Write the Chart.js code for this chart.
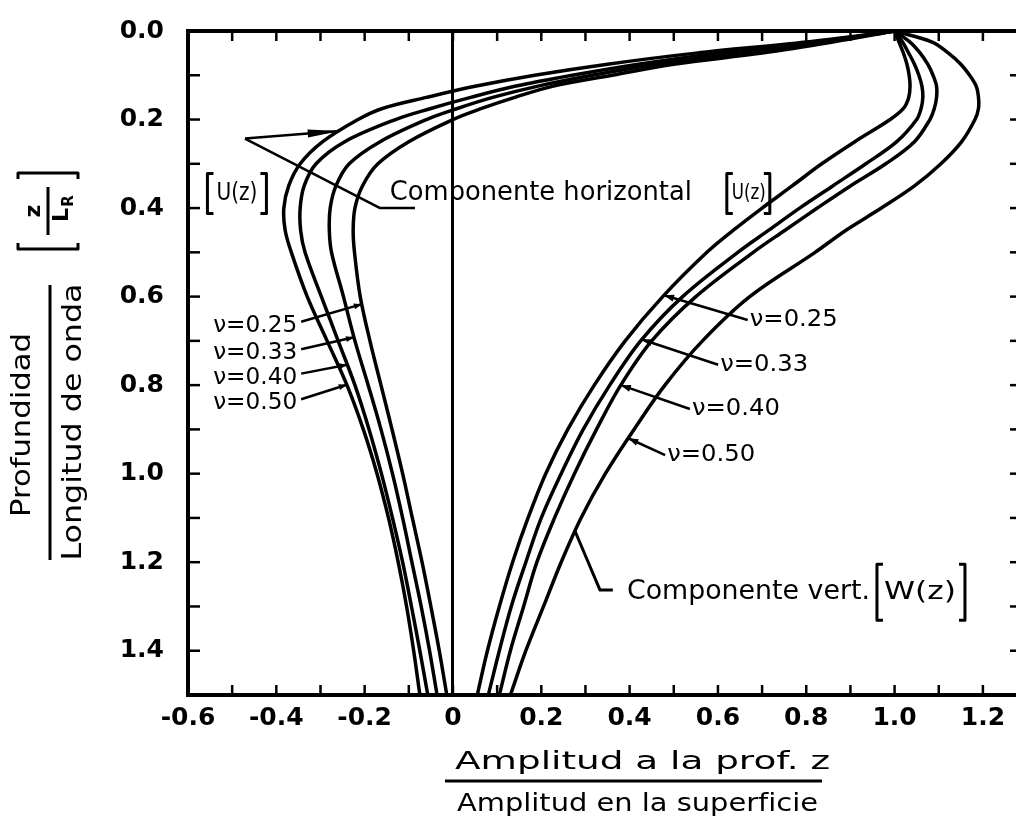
<!DOCTYPE html>
<html lang="es">
<head>
<meta charset="utf-8">
<title>Amplitud vs profundidad</title>
<script src="https://cdn.jsdelivr.net/npm/chart.js@4.4.1/dist/chart.umd.min.js"></script>
<style>
  html, body { margin: 0; padding: 0; background: #fff; overflow: hidden; }
  #wrap { position: relative; width: 1040px; height: 826px; }
</style>
</head>
<body>
<div id="wrap"><canvas id="chart"></canvas></div>
<script>
/* ── Data ─────────────────────────────────────────────────── */
const depth = [0, 0.025, 0.05, 0.075, 0.1, 0.125, 0.15, 0.175, 0.2, 0.25, 0.3, 0.35, 0.4,
               0.45, 0.5, 0.6, 0.7, 0.8, 0.9, 1.0, 1.1, 1.2, 1.3, 1.4, 1.5];

// horizontal component U(z), one array per Poisson ratio
const u25 = [1.0, 0.86, 0.70, 0.50, 0.36, 0.225, 0.14, 0.065, 0.0, -0.10, -0.17, -0.205, -0.222,
             -0.226, -0.223, -0.21, -0.188, -0.163, -0.138, -0.114, -0.092, -0.07, -0.05, -0.031, -0.014];
const u33 = [1.0, 0.84, 0.65, 0.46, 0.315, 0.19, 0.09, 0.01, -0.06, -0.165, -0.235, -0.265, -0.278,
             -0.28, -0.275, -0.248, -0.222, -0.192, -0.163, -0.137, -0.114, -0.093, -0.072, -0.053, -0.036];
const u40 = [1.0, 0.82, 0.60, 0.42, 0.27, 0.14, 0.04, -0.05, -0.13, -0.245, -0.31, -0.337, -0.346,
             -0.345, -0.335, -0.298, -0.26, -0.222, -0.19, -0.162, -0.137, -0.114, -0.094, -0.075, -0.057];
const u50 = [1.0, 0.80, 0.55, 0.35, 0.185, 0.05, -0.06, -0.16, -0.215, -0.295, -0.346, -0.372, -0.383,
             -0.38, -0.366, -0.33, -0.285, -0.24, -0.203, -0.172, -0.146, -0.124, -0.105, -0.089, -0.075];

// vertical component W(z)
const w25 = [1.0, 1.01, 1.02, 1.028, 1.033, 1.035, 1.032, 1.02, 0.99, 0.91, 0.835, 0.768, 0.70,
             0.635, 0.575, 0.475, 0.39, 0.32, 0.26, 0.21, 0.17, 0.135, 0.105, 0.078, 0.055];
const w33 = [1.0, 1.018, 1.032, 1.045, 1.055, 1.062, 1.064, 1.06, 1.05, 1.005, 0.935, 0.86, 0.785,
             0.715, 0.645, 0.52, 0.425, 0.355, 0.295, 0.245, 0.20, 0.165, 0.132, 0.105, 0.08];
const w40 = [1.0, 1.035, 1.058, 1.075, 1.087, 1.095, 1.095, 1.09, 1.08, 1.045, 0.98, 0.90, 0.825,
             0.752, 0.68, 0.55, 0.45, 0.38, 0.325, 0.275, 0.23, 0.19, 0.16, 0.13, 0.105];
const w50 = [1.0, 1.085, 1.122, 1.15, 1.17, 1.185, 1.19, 1.19, 1.182, 1.152, 1.105, 1.045, 0.97,
             0.89, 0.82, 0.672, 0.565, 0.48, 0.41, 0.345, 0.29, 0.245, 0.205, 0.165, 0.13];

const poisson = ['0.25', '0.33', '0.40', '0.50'];
const uCurves = [u25, u33, u40, u50];
const wCurves = [w25, w33, w40, w50];

// tick positions (labels only on every second one)
const xTicks = [-0.6, -0.5, -0.4, -0.3, -0.2, -0.1, 0, 0.1, 0.2, 0.3, 0.4, 0.5, 0.6, 0.7, 0.8,
                0.9, 1.0, 1.1, 1.2];
const yTicks = [0, 0.1, 0.2, 0.3, 0.4, 0.5, 0.6, 0.7, 0.8, 0.9, 1.0, 1.1, 1.2, 1.3, 1.4, 1.5];

const FONT = '"DejaVu Sans", "Liberation Sans", sans-serif';

const datasets = [...uCurves, ...wCurves].map((vals, i) => ({
  label: (i < 4 ? 'U ' : 'W ') + poisson[i % 4],
  data: depth.map((z, k) => ({ x: vals[k], y: z })),
  borderColor: '#000',
  borderWidth: 3.5,
  pointRadius: 0,
  tension: 0.35,
  fill: false,
}));

// value of a curve at depth z (linear between read points)
function at(vals, z) {
  for (let i = 1; i < depth.length; i++) {
    if (z <= depth[i]) {
      const t = (z - depth[i - 1]) / (depth[i] - depth[i - 1]);
      return vals[i - 1] + t * (vals[i] - vals[i - 1]);
    }
  }
  return vals[vals.length - 1];
}

/* ── Drawing helpers ──────────────────────────────────────── */
function fitText(ctx, s, x, y, size, width, opts = {}) {
  ctx.save();
  ctx.font = `${opts.weight || 'normal'} ${size}px ${FONT}`;
  ctx.fillStyle = '#000';
  ctx.textBaseline = 'middle';
  ctx.textAlign = opts.align || 'left';
  const w = ctx.measureText(s).width;
  ctx.translate(x, y);
  if (opts.rotate) ctx.rotate(opts.rotate);
  ctx.scale(width ? width / w : 1, 1);
  ctx.fillText(s, 0, 0);
  ctx.restore();
}

function poly(ctx, pts, lw = 2) {
  ctx.save();
  ctx.strokeStyle = '#000';
  ctx.lineWidth = lw;
  ctx.lineJoin = 'round';
  ctx.beginPath();
  pts.forEach((p, i) => i ? ctx.lineTo(p[0], p[1]) : ctx.moveTo(p[0], p[1]));
  ctx.stroke();
  ctx.restore();
}

function arrowHead(ctx, from, to, len = 11, half = 3.5) {
  const a = Math.atan2(to[1] - from[1], to[0] - from[0]);
  ctx.save();
  ctx.fillStyle = '#000';
  ctx.translate(to[0], to[1]);
  ctx.rotate(a);
  ctx.beginPath();
  ctx.moveTo(0, 0);
  ctx.lineTo(-len, -half);
  ctx.lineTo(-len, half);
  ctx.closePath();
  ctx.fill();
  ctx.restore();
}

function brackets(ctx, x0, x1, y, h) {
  poly(ctx, [[x0 + 6, y - h / 2], [x0, y - h / 2], [x0, y + h / 2], [x0 + 6, y + h / 2]], 3);
  poly(ctx, [[x1 - 6, y - h / 2], [x1, y - h / 2], [x1, y + h / 2], [x1 - 6, y + h / 2]], 3);
}

/* ── Frame with inward ticks ──────────────────────────────── */
const frame = {
  id: 'frame',
  afterDatasetsDraw(chart) {
    const { ctx, chartArea: a, scales: { x, y } } = chart;
    ctx.save();
    ctx.strokeStyle = '#000';
    ctx.lineWidth = 4;
    ctx.strokeRect(a.left, a.top, a.right - a.left, a.bottom - a.top);
    ctx.restore();
    x.ticks.forEach(t => {
      const p = x.getPixelForValue(t.value);
      poly(ctx, [[p, a.top], [p, a.top + 10]], 2.5);
      poly(ctx, [[p, a.bottom], [p, a.bottom - 10]], 2.5);
    });
    y.ticks.forEach(t => {
      const p = y.getPixelForValue(t.value);
      poly(ctx, [[a.left, p], [a.left + 12, p]], 2.5);
      poly(ctx, [[a.right, p], [a.right - 10, p]], 2.5);
    });
  }
};

/* ── Labels, leaders and axis titles ──────────────────────── */
const notes = {
  id: 'notes',
  afterDraw(chart) {
    const { ctx, scales: { x, y } } = chart;
    const P = (vx, vz) => [x.getPixelForValue(vx), y.getPixelForValue(vz)];

    // [U(z)] tag on the left
    const ut = P(-0.556, 0.367);
    brackets(ctx, ut[0], ut[0] + 59, ut[1], 40);
    fitText(ctx, 'U(z)', ut[0] + 9, ut[1], 24, 41);

    // pointer from the tag to the outer U curve, and leader to the label
    const apex = P(-0.471, 0.243);
    const tipZ = 0.226;
    const tip = P(at(u50, tipZ), tipZ);
    poly(ctx, [apex, tip], 2.5);
    arrowHead(ctx, apex, tip, 32, 4);
    poly(ctx, [apex, P(-0.165, 0.40), P(-0.086, 0.40)], 2.5);

    // Componente horizontal [U(z)]
    const ch = P(-0.143, 0.367);
    fitText(ctx, 'Componente horizontal', ch[0], ch[1], 26, 302);
    brackets(ctx, ch[0] + 337, ch[0] + 380, ch[1], 40);
    fitText(ctx, 'U(z)', ch[0] + 342, ch[1], 22, 34);

    // Poisson ratio labels, left group (U curves)
    const leftZ = [0.666, 0.728, 0.783, 0.841];
    const leftHit = [0.617, 0.692, 0.754, 0.799];
    poisson.forEach((nu, i) => {
      const p = P(-0.543, leftZ[i]);
      fitText(ctx, 'ν=' + nu, p[0], p[1], 23, 84);
      const from = [p[0] + 88, p[1] - 4];
      const to = P(at(uCurves[i], leftHit[i]), leftHit[i]);
      poly(ctx, [from, to], 2.5);
      arrowHead(ctx, from, to, 8, 3);
    });

    // Poisson ratio labels, right group (W curves)
    const rightX = [0.672, 0.605, 0.541, 0.485];
    const rightZ = [0.653, 0.754, 0.854, 0.958];
    const rightHit = [0.597, 0.697, 0.80, 0.92];
    poisson.forEach((nu, i) => {
      const p = P(rightX[i], rightZ[i]);
      fitText(ctx, 'ν=' + nu, p[0], p[1], 23, 88);
      const from = [p[0] - 2, p[1]];
      const to = P(at(wCurves[i], rightHit[i]), rightHit[i]);
      poly(ctx, [from, to], 2.5);
      arrowHead(ctx, from, to, 10, 3.5);
    });

    // Componente vert. [W(z)]
    const wz = 1.13;
    const cv = P(0.394, 1.268);
    poly(ctx, [P(at(w50, wz), wz), P(0.333, 1.263), P(0.362, 1.263)], 3);
    fitText(ctx, 'Componente vert.', cv[0], cv[1], 26, 243);
    brackets(ctx, cv[0] + 250, cv[0] + 338, cv[1], 56);
    fitText(ctx, 'W(z)', cv[0] + 257, cv[1], 24, 72);

    // x axis title (fraction)
    fitText(ctx, 'Amplitud a la prof. z', 455, 762, 25, 375);
    poly(ctx, [[445, 781], [822, 781]], 3);
    fitText(ctx, 'Amplitud en la superficie', 457, 804, 25, 361);

    // y axis title (fraction), rotated
    const up = -Math.PI / 2;
    fitText(ctx, 'Profundidad', 23, 425, 26, 184, { align: 'center', rotate: up });
    poly(ctx, [[50, 285], [50, 560]], 3);
    fitText(ctx, 'Longitud de onda', 74, 422, 26, 277, { align: 'center', rotate: up });

    // [ z / L_R ]
    ctx.save();
    ctx.translate(48, 211);
    ctx.rotate(up);
    brackets(ctx, -38, 38, 0, 60);
    poly(ctx, [[-24, 0], [24, 0]], 3);
    fitText(ctx, 'z', 0, -14, 22, 0, { align: 'center', weight: 'bold' });
    fitText(ctx, 'L', -4, 14, 22, 0, { align: 'center', weight: 'bold' });
    fitText(ctx, 'R', 10, 21, 15, 0, { align: 'center', weight: 'bold' });
    ctx.restore();
  }
};

/* ── Chart ────────────────────────────────────────────────── */
const isZero = v => Math.abs(v) < 1e-9;
const tenth = v => Math.round(v * 10);

new Chart(document.getElementById('chart'), {
  type: 'line',
  data: { datasets },
  options: {
    responsive: true,
    maintainAspectRatio: false,
    animation: false,
    layout: { padding: { top: 17, right: 20, left: 0, bottom: 0 } },
    plugins: { legend: { display: false }, tooltip: { enabled: false } },
    scales: {
      x: {
        type: 'linear',
        min: -0.6,
        max: 1.284,
        afterBuildTicks: s => { s.ticks = xTicks.map(v => ({ value: v })); },
        afterFit: s => { s.height = 131; },
        border: { display: false },
        grid: {
          drawTicks: false,
          lineWidth: 3,
          color: c => (c.tick && isZero(c.tick.value)) ? '#000' : 'rgba(0,0,0,0)',
        },
        ticks: {
          autoSkip: false,
          maxRotation: 0,
          padding: 8,
          color: '#000',
          font: { family: FONT, size: 25, weight: 'bold' },
          callback: v => {
            const t = tenth(v);
            if (t % 2 !== 0) return '';
            return t === 0 ? '0' : (t / 10).toFixed(1);
          },
        },
      },
      y: {
        type: 'linear',
        reverse: true,
        min: 0,
        max: 1.5,
        afterBuildTicks: s => { s.ticks = yTicks.map(v => ({ value: v })); },
        afterFit: s => { s.width = 188; },
        border: { display: false },
        grid: { display: false },
        ticks: {
          autoSkip: false,
          padding: 16,
          color: '#000',
          font: { family: FONT, size: 25, weight: 'bold' },
          callback: v => {
            const t = tenth(v);
            return t % 2 !== 0 ? '' : (t / 10).toFixed(1);
          },
        },
      },
    },
  },
  plugins: [frame, notes],
});
</script>
</body>
</html>
